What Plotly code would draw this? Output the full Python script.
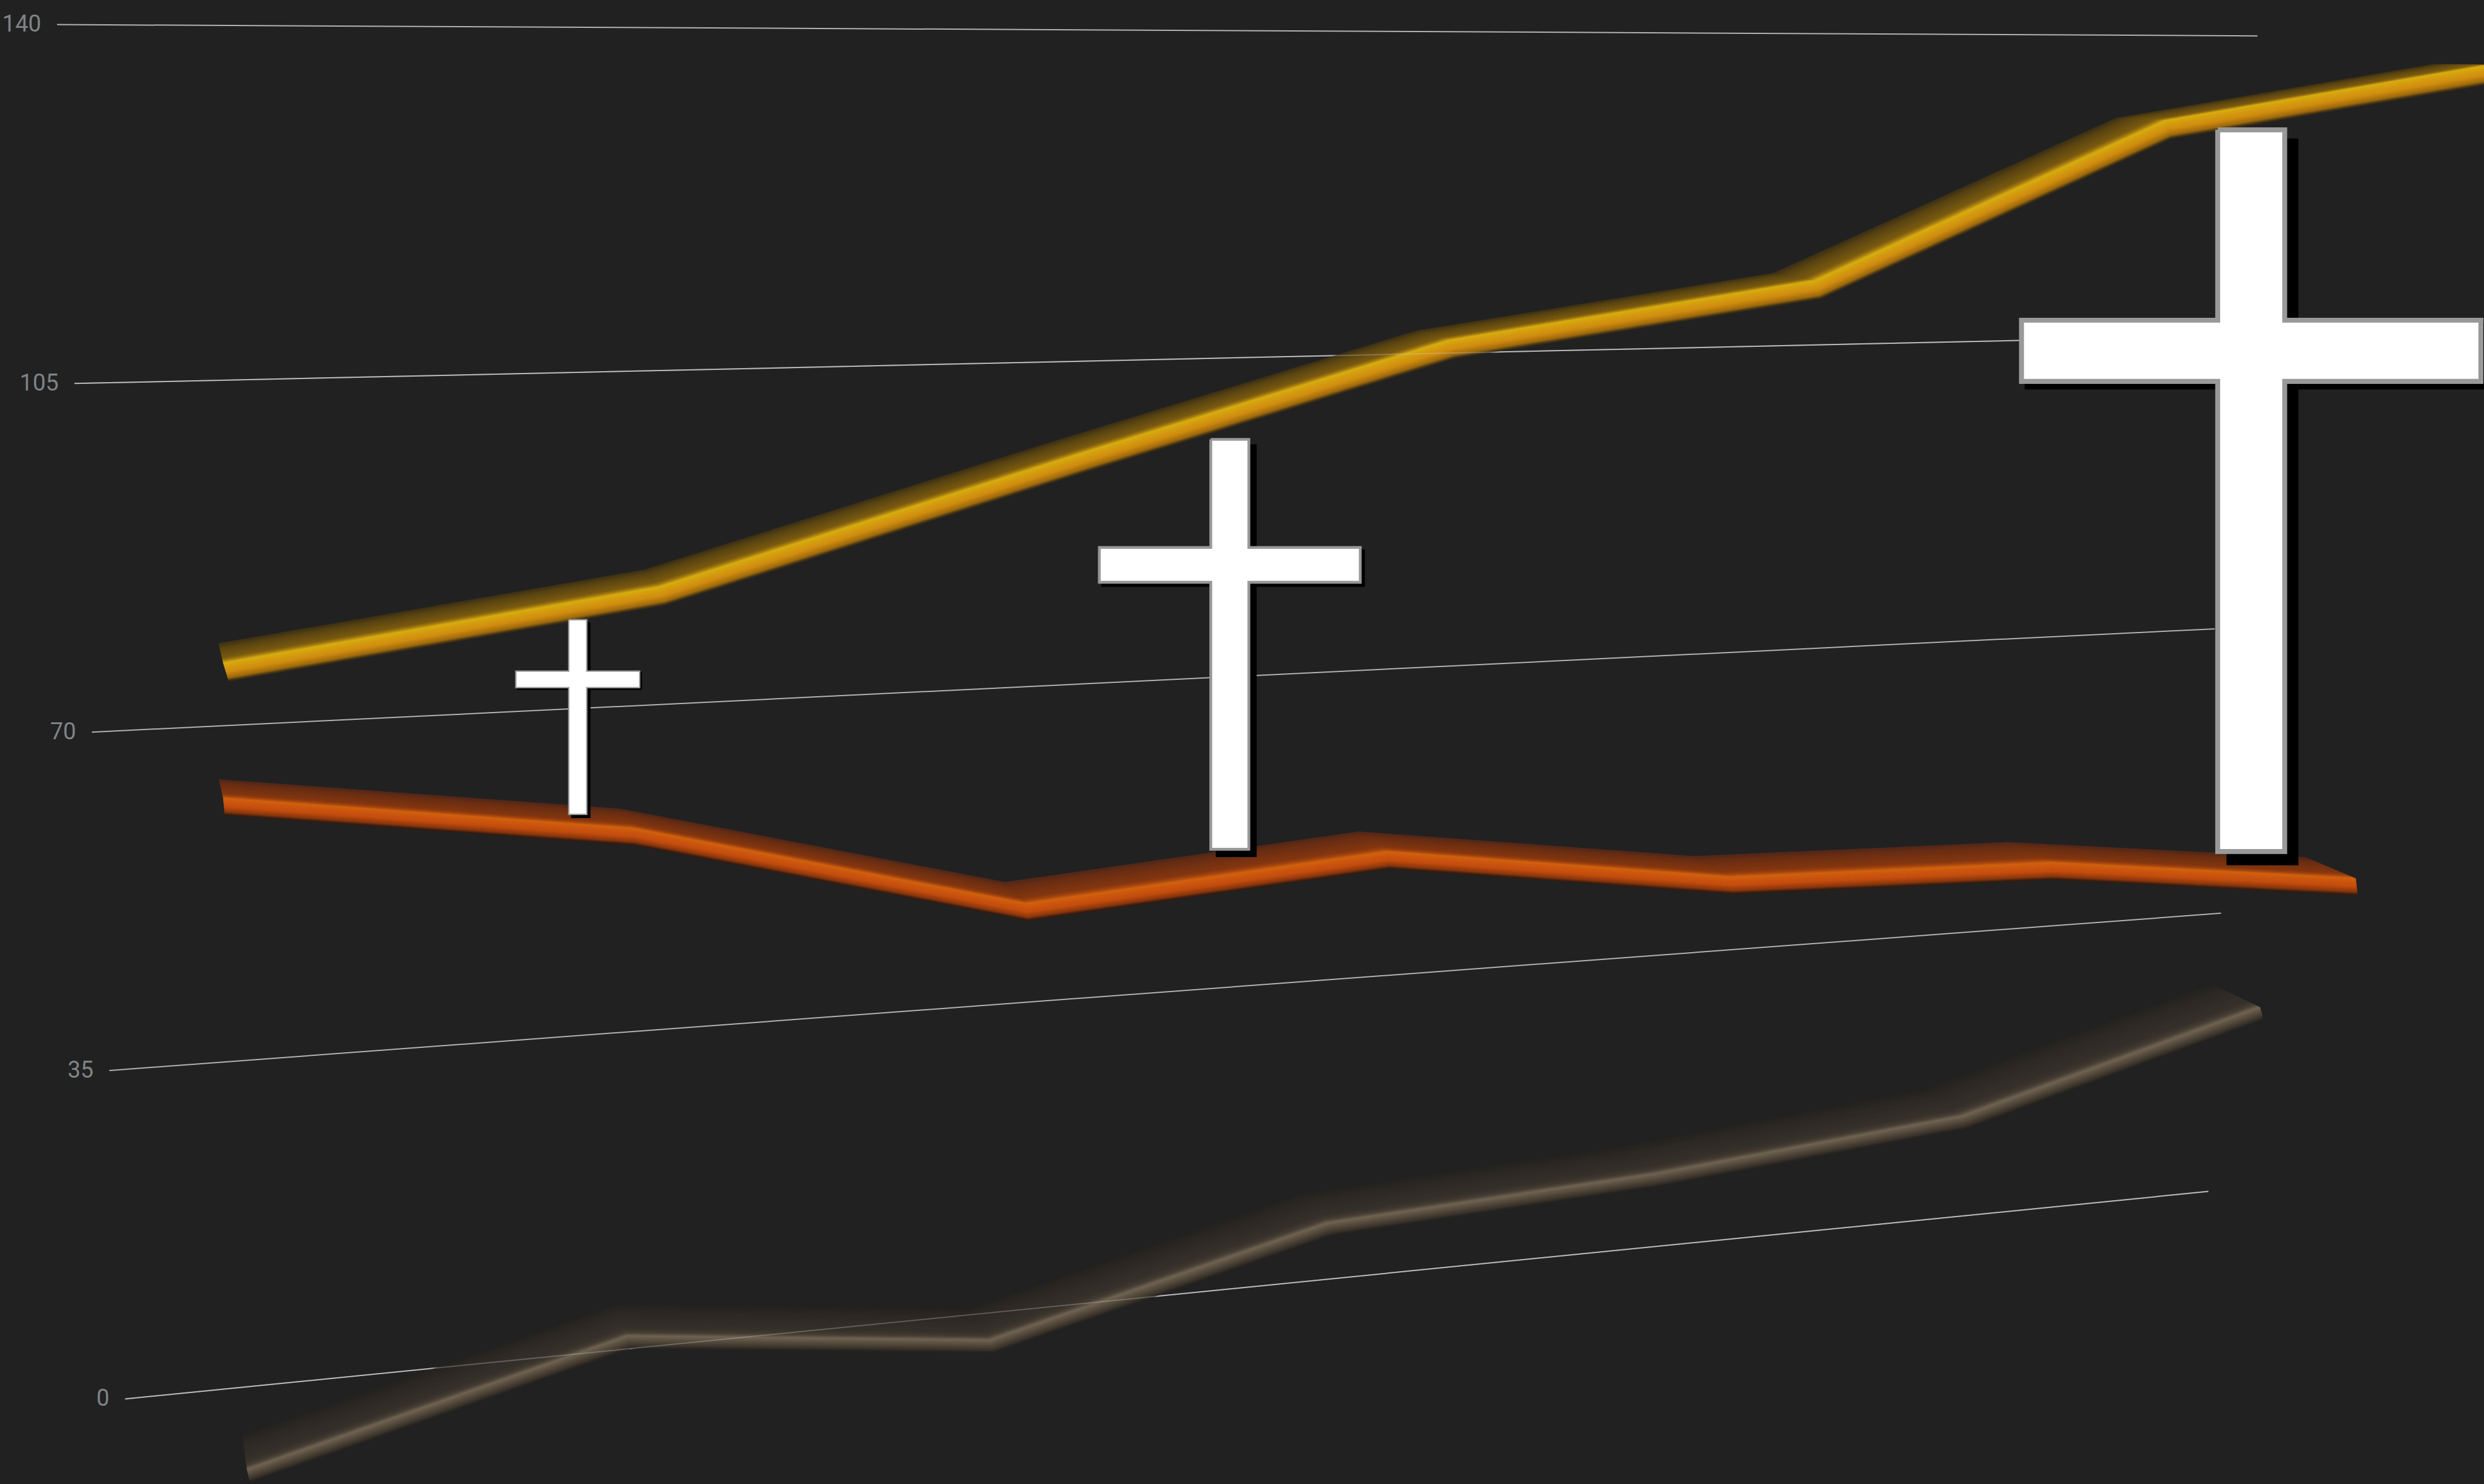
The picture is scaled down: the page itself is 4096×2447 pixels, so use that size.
import plotly.graph_objects as go

# ---- data ----
gold_positions = [0, 0.1922, 0.3759, 0.5408, 0.7022, 0.8567, 1]
orange_positions = [0, 0.1924, 0.3767, 0.546, 0.7073, 0.8574, 1]
brown_positions = [0, 0.1889, 0.3691, 0.5367, 0.7, 0.8524, 1]
gold_values = [76.4, 82.4, 94.9, 106.4, 112.3, 130.2, 136.7]
orange_values = [62.5, 56.9, 46, 49.2, 43.6, 42.7, 38.1]
brown_values = [-9.07, 1.4, -3.2, 6.6, 8.8, 12.4, 22.8]
tick_values = [140, 105, 70, 35, 0]
tick_labels = ["140", "105", "70", "35", "0"]
cross_positions = [0.1662, 0.4720, 0.9510]
cross_low = [58.7, 50.5, 42.1]
cross_high = [79.4, 96.3, 129.4]

# ---- scene geometry ----
REF_W, REF_H = 4394, 2625
WIN_W, WIN_H = 4096, 2447
K = REF_W / 1568
ZOOM = WIN_W / REF_W
BG = "#212121"
grid_start = [36, 47, 58, 69, 79]
grid_end = [1425, 1412, 1398, 1402, 1394]
GRID = "#b4b4b4"
GRID_GHOST = "rgba(205,205,205,0.3)"


def vy(x, v):
    eff = v - 0.000386 * v * (140 - v)
    return (890.9 - 0.0996 * x) - eff * (6.254 - 0.000748 * x)


def hex2rgb(c):
    return [int(c[i:i + 2], 16) for i in (1, 3, 5)]


def ramp(stops, t):
    for (t0, c0), (t1, c1) in zip(stops, stops[1:]):
        if t <= t1:
            u = (t - t0) / (t1 - t0) if t1 > t0 else 0
            a, b = hex2rgb(c0), hex2rgb(c1)
            return "rgb(%d,%d,%d)" % tuple(a[i] + (b[i] - a[i]) * u for i in range(3))
    return stops[-1][1]


fig = go.Figure()


def poly(xs, ys, fill, line=None, lw=0):
    fig.add_trace(go.Scatter(
        x=list(xs) + [xs[0]], y=list(ys) + [ys[0]], mode="lines", fill="toself",
        fillcolor=fill, line=dict(color=line or fill, width=lw), hoverinfo="skip", showlegend=False))


def line_trace(xs, ys, color, lw):
    fig.add_trace(go.Scatter(x=xs, y=ys, mode="lines", line=dict(color=color, width=lw),
                             hoverinfo="skip", showlegend=False))


# gridlines
grid_pts = []
for v, a, b in zip(tick_values, grid_start, grid_end):
    pts = ([a * K, b * K], [vy(a, v) * K, vy(b, v) * K])
    grid_pts.append(pts)
    line_trace(pts[0], pts[1], GRID, 2)

# tick labels
fig.add_trace(go.Scatter(
    x=[a * K - 28 for a in grid_start],
    y=[vy(a, v) * K + 2 for a, v in zip(grid_start, tick_values)],
    mode="text", text=tick_labels, textposition="middle left",
    textfont=dict(family="Roboto", size=38, color="#7f8487"),
    hoverinfo="skip", showlegend=False))


def ribbon(values, positions, x0, w, stops, bottom, kx, ky, vx, vy0):
    px = [x0 + w * f for f in positions]
    py = [vy(x, v) for x, v in zip(px, values)]
    back = [(x - kx * (x - vx), y - ky * (y - vy0)) for x, y in zip(px, py)]
    front = [(x + bottom[0], y + bottom[1]) for x, y in zip(px, py)]

    def edge(t):
        if t <= 1:
            return [(b[0] + (x - b[0]) * t, b[1] + (y - b[1]) * t) for b, x, y in zip(back, px, py)]
        u = t - 1
        return [(x + (f[0] - x) * u, y + (f[1] - y) * u) for f, x, y in zip(front, px, py)]

    n = 48
    for i in range(n):
        t0, t1 = 2 * i / n, 2 * (i + 1) / n
        e0, e1 = edge(t0), edge(t1)
        pts = e0 + e1[::-1]
        c = ramp(stops, (t0 + t1) / 2)
        poly([p[0] * K for p in pts], [p[1] * K for p in pts], c, c, 0.8)


gold_stops = [(0, "#3c3016"), (0.25, "#5a4413"), (0.75, "#7c5c10"), (0.88, "#a87c10"), (1.0, "#d9b210"),
              (1.12, "#d9a510"), (1.5, "#d48f10"), (1.82, "#a06c0e"), (2, "#30281a")]
orange_stops = [(0, "#52281a"), (0.25, "#6c2f14"), (0.75, "#863810"), (0.88, "#a8460f"), (1.0, "#d4660f"),
                (1.12, "#d25c10"), (1.5, "#c64e0f"), (1.82, "#8a370e"), (2, "#2a1a12")]
brown_stops = [(0, "#262320"), (0.25, "#2d2925"), (0.75, "#37322b"), (0.88, "#453e34"), (1.0, "#746654"),
               (1.12, "#685c4c"), (1.5, "#504639"), (1.82, "#39332b"), (2, "#262320")]

ribbon(brown_values, brown_positions, 156, 1270.6, brown_stops, (2, 7.7), 0.0213, 0.0245, 17, 43)
# the gridlines show faintly through the ribbons
line_trace(grid_pts[4][0], grid_pts[4][1], GRID_GHOST, 2)
ribbon(orange_values, orange_positions, 141, 1346, orange_stops, (1, 10.5), 0.0215, 0.026, 17, 43)
ribbon(gold_values, gold_positions, 141, 1431, gold_stops, (3.5, 11.3), 0.0233, 0.032, 17, 27)
line_trace(grid_pts[1][0], grid_pts[1][1], GRID_GHOST, 2)

# crosses
for pos, lo, hi in zip(cross_positions, cross_low, cross_high):
    xs = 141 + 1346 * pos
    top, bot = vy(xs, hi) * K, vy(xs, lo) * K
    cx = xs * K
    h = bot - top
    half_v = 0.0495 * h
    half_w = 0.3195 * h
    bar_top = top + 0.262 * h
    bar_bot = bar_top + 0.091 * h
    off = 0.0155 * h
    # shadows
    poly([cx - half_v + off, cx + half_v + off, cx + half_v + off, cx - half_v + off],
         [top + off, top + off, bot + off, bot + off], "#000000")
    poly([cx - half_w + off / 2, cx + half_w + off / 2, cx + half_w + off / 2, cx - half_w + off / 2],
         [bar_top + off / 2, bar_top + off / 2, bar_bot + off / 2, bar_bot + off / 2], "#000000")
    # body
    lw = 0.0068 * h
    i = lw / 2
    a, b, c = half_v - i, half_w - i, i
    X = [cx - a, cx + a, cx + a, cx + b, cx + b, cx + a, cx + a, cx - a, cx - a, cx - b, cx - b, cx - a]
    Y = [top + c, top + c, bar_top + c, bar_top + c, bar_bot - c, bar_bot - c, bot - c, bot - c,
         bar_bot - c, bar_bot - c, bar_top + c, bar_top + c]
    poly(X, Y, "#ffffff", "#999999", lw * ZOOM)

fig.update_layout(
    width=WIN_W, height=WIN_H, margin=dict(l=0, r=0, t=0, b=0),
    paper_bgcolor=BG, plot_bgcolor=BG, showlegend=False,
    xaxis=dict(range=[0, REF_W], visible=False, fixedrange=True),
    yaxis=dict(range=[REF_H, 0], visible=False, fixedrange=True),
)
fig.write_html("out.html", config=dict(displayModeBar=False),
               post_script="document.body.style.margin='0';document.documentElement.style.overflow='hidden';")
